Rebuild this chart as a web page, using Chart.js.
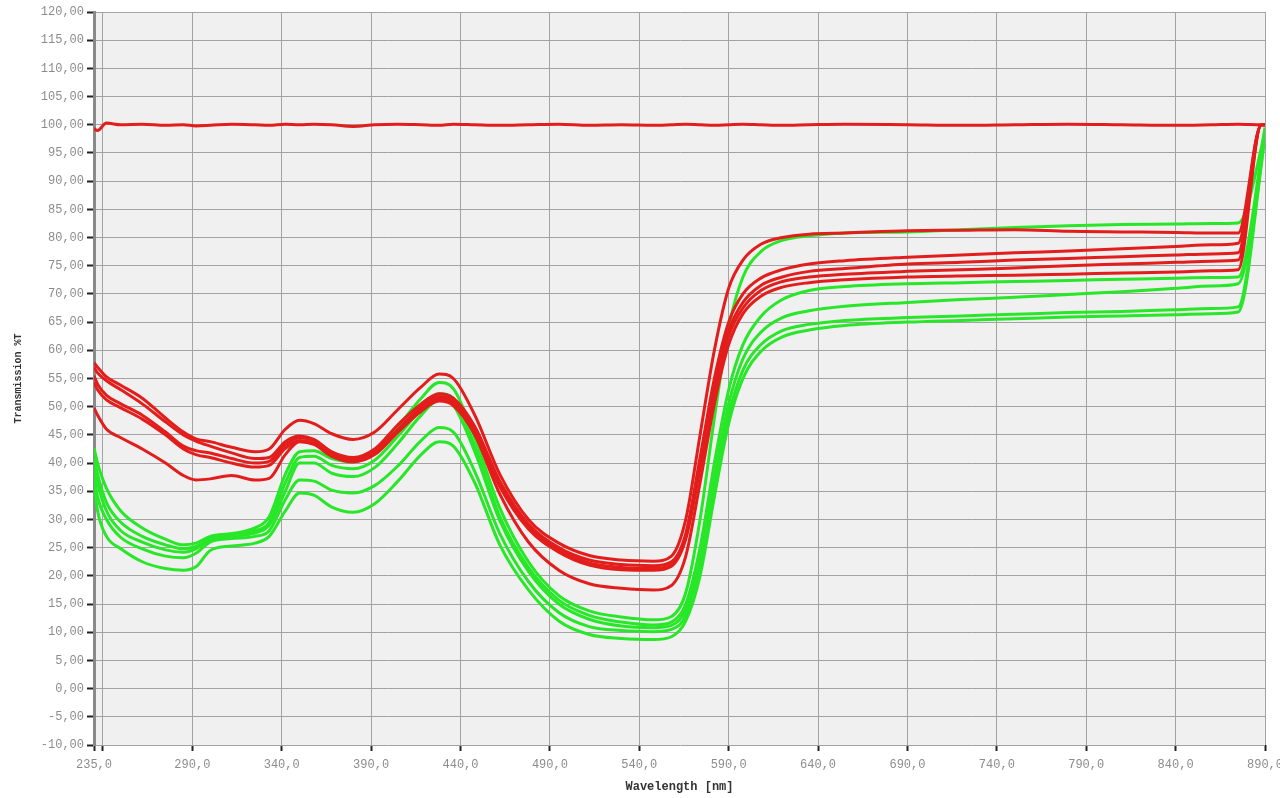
<!DOCTYPE html>
<html>
<head>
<meta charset="utf-8">
<title>Transmission %T</title>
<script src="https://cdn.jsdelivr.net/npm/chart.js@4.4.1/dist/chart.umd.min.js"></script>
<style>
  html, body { margin: 0; padding: 0; background: #fff; }
  #wrap { width: 1280px; height: 798px; }
</style>
</head>
<body>
<div id="wrap"><canvas id="chart" width="1280" height="798"></canvas></div>
<script>
// wavelengths in nm, shared by all curves
const wavelengths = [235, 237, 242, 250, 262, 275, 285, 292, 300, 312,
  325, 333, 342, 350, 358, 368, 380, 392, 405, 418,
  428, 436, 448, 462, 478, 495, 512, 530, 548, 558,
  566, 574, 582, 590, 598, 608, 620, 635, 655, 690,
  720, 750, 780, 810, 840, 860, 875, 888, 890];

// reference (100 %) line
const red0 = [99.3, 99.0, 100.3, 100.0, 100.1, 99.9, 100.0, 99.8, 99.9, 100.1,
  100.0, 99.9, 100.1, 100.0, 100.1, 100.0, 99.7, 100.0, 100.1, 100.0,
  99.9, 100.1, 100.0, 99.9, 100.0, 100.1, 99.9, 100.0, 99.9, 100.0,
  100.1, 100.0, 99.9, 100.0, 100.1, 100.0, 99.9, 100.0, 100.1, 100.0,
  99.9, 100.0, 100.1, 100.0, 99.9, 100.0, 100.1, 100.0, 100.0];

// red samples
const red1 = [57.8, 57.0, 55.3, 53.8, 51.5, 48.0, 45.5, 44.3, 43.8, 42.8,
  42.0, 42.5, 46.0, 47.6, 47.0, 45.2, 44.2, 45.5, 49.5, 53.5,
  55.8, 55.0, 48.5, 38.0, 30.0, 25.8, 23.6, 22.8, 22.6, 23.5,
  30.0, 45.0, 60.0, 71.0, 76.0, 78.8, 80.0, 80.6, 80.8, 81.2,
  81.3, 81.4, 81.1, 81.0, 80.9, 80.8, 80.8, 100, 100];
const red2 = [57.0, 56.0, 54.6, 53.0, 50.5, 47.3, 45.0, 43.9, 43.0, 41.8,
  40.8, 41.0, 43.8, 44.8, 44.2, 42.0, 41.0, 42.5, 46.8, 50.5,
  52.3, 51.5, 46.5, 36.8, 29.2, 25.0, 22.8, 22.0, 21.8, 22.5,
  27.5, 41.0, 55.0, 65.0, 70.0, 72.8, 74.3, 75.3, 75.9, 76.5,
  76.9, 77.3, 77.6, 78.0, 78.4, 78.7, 79.0, 100, 100];
const red3 = [55.5, 54.0, 52.0, 50.5, 48.5, 45.5, 43.0, 42.2, 41.8, 40.8,
  40.0, 40.3, 43.2, 44.5, 44.0, 41.8, 40.6, 42.0, 46.0, 50.0,
  51.8, 51.0, 46.0, 36.2, 28.8, 24.6, 22.3, 21.5, 21.3, 22.0,
  27.0, 40.0, 53.5, 63.5, 68.5, 71.5, 73.0, 74.0, 74.5, 75.3,
  75.6, 76.0, 76.3, 76.6, 76.9, 77.1, 77.3, 100, 100];
const red4 = [54.3, 53.0, 51.2, 49.8, 47.8, 45.0, 42.5, 41.5, 41.0, 40.0,
  39.3, 39.6, 42.6, 44.0, 43.5, 41.5, 40.4, 41.8, 45.7, 49.6,
  51.4, 50.6, 45.5, 35.8, 28.3, 24.2, 21.9, 21.1, 21.0, 21.7,
  26.5, 39.0, 52.5, 62.5, 67.5, 70.6, 72.2, 73.0, 73.5, 74.0,
  74.3, 74.6, 75.0, 75.3, 75.6, 75.8, 76.0, 100, 100];
const red5 = [49.8, 48.5, 46.0, 44.5, 42.5, 40.0, 37.8, 37.0, 37.2, 37.8,
  37.0, 37.3, 41.5, 43.8, 43.3, 41.2, 40.2, 41.5, 45.5, 49.2,
  51.0, 50.2, 45.0, 34.5, 26.0, 21.0, 18.6, 17.8, 17.5, 18.3,
  23.5, 36.5, 50.5, 61.0, 66.5, 69.6, 71.2, 72.0, 72.5, 73.0,
  73.2, 73.3, 73.5, 73.7, 73.9, 74.1, 74.3, 100, 100];

// green samples
const green1 = [42.7, 40.0, 35.5, 31.5, 28.5, 26.5, 25.5, 25.8, 27.0, 27.5,
  28.5, 30.5, 38.0, 42.0, 42.2, 40.8, 40.2, 42.0, 46.5, 51.5,
  54.3, 53.2, 44.5, 32.0, 22.5, 16.5, 13.8, 12.7, 12.2, 12.8,
  17.0, 30.0, 48.0, 64.0, 73.0, 77.5, 79.5, 80.3, 80.8, 81.0,
  81.4, 81.8, 82.1, 82.3, 82.4, 82.5, 82.6, 96.0, 99.5];
const green2 = [41.0, 38.0, 33.0, 29.5, 27.0, 25.5, 24.8, 25.2, 26.6, 27.2,
  28.0, 29.5, 36.5, 41.0, 41.2, 39.6, 39.0, 40.5, 44.8, 49.5,
  52.3, 51.5, 43.0, 30.5, 21.5, 15.7, 13.0, 11.8, 11.3, 11.8,
  15.0, 25.0, 40.0, 53.0, 61.0, 66.0, 69.0, 70.6, 71.3, 71.8,
  72.0, 72.2, 72.4, 72.6, 72.8, 72.9, 73.0, 94.5, 99.0];
const green3 = [40.0, 36.5, 31.5, 28.0, 26.0, 24.6, 24.2, 24.8, 26.4, 27.0,
  27.6, 29.0, 35.0, 40.0, 40.0, 38.2, 37.6, 39.2, 43.5, 48.5,
  51.2, 50.2, 42.0, 29.8, 20.8, 15.0, 12.3, 11.1, 10.8, 11.2,
  14.0, 23.0, 37.5, 50.5, 58.5, 63.2, 65.8, 67.0, 67.8, 68.5,
  69.0, 69.4, 69.9, 70.4, 71.0, 71.4, 71.8, 94.0, 99.0];
const green4 = [38.0, 34.0, 30.0, 26.8, 24.8, 23.5, 23.2, 24.0, 26.0, 26.6,
  27.0, 28.0, 33.5, 37.0, 36.8, 35.2, 34.7, 36.0, 39.5, 44.0,
  46.3, 45.5, 38.5, 27.5, 19.0, 13.5, 11.0, 10.3, 10.1, 10.5,
  13.0, 21.5, 35.5, 48.5, 56.5, 61.0, 63.5, 64.6, 65.3, 65.8,
  66.1, 66.4, 66.7, 66.9, 67.2, 67.4, 67.7, 93.5, 98.5];
const green5 = [36.5, 31.5, 27.0, 24.8, 22.5, 21.3, 21.0, 21.6, 24.5, 25.3,
  25.8, 27.0, 31.5, 34.7, 34.3, 32.2, 31.3, 32.8, 36.8, 41.5,
  43.8, 43.0, 36.5, 25.5, 17.5, 12.0, 9.6, 8.9, 8.7, 9.2,
  12.0, 20.0, 34.0, 47.0, 55.0, 59.8, 62.4, 63.6, 64.4, 65.0,
  65.3, 65.6, 65.9, 66.1, 66.3, 66.5, 66.8, 93.0, 98.5];

const xTicks = [235, 240, 290, 340, 390, 440, 490, 540, 590, 640, 690, 740, 790, 840, 890];

const RED = '#e21d1b';
const GREEN = '#28e628';

// reds first so they are painted over the greens
const series = [
  { values: red0, color: RED },
  { values: red1, color: RED },
  { values: red2, color: RED },
  { values: red3, color: RED },
  { values: red4, color: RED },
  { values: red5, color: RED },
  { values: green1, color: GREEN },
  { values: green2, color: GREEN },
  { values: green3, color: GREEN },
  { values: green4, color: GREEN },
  { values: green5, color: GREEN },
];

const plotBackground = {
  id: 'plotBackground',
  beforeDraw(chart) {
    const { ctx, chartArea: { left, top, right, bottom } } = chart;
    ctx.save();
    ctx.fillStyle = '#f0f0f0';
    ctx.fillRect(left, top, right - left, bottom - top);
    ctx.restore();
  }
};

const tickFont = { family: 'Liberation Mono', size: 12 };
const titleFont = { family: 'Liberation Mono', size: 12, weight: 'bold' };

new Chart(document.getElementById('chart'), {
  type: 'line',
  data: {
    datasets: series.map(s => ({
      data: wavelengths.map((w, i) => ({ x: w, y: s.values[i] })),
      borderColor: s.color,
      backgroundColor: s.color,
      fill: false
    }))
  },
  options: {
    responsive: false,
    animation: false,
    devicePixelRatio: 1,
    layout: { padding: { left: 0, right: 15, top: 12, bottom: 0 } },
    elements: {
      line: { borderWidth: 3, cubicInterpolationMode: 'monotone' },
      point: { radius: 0, hoverRadius: 0 }
    },
    plugins: {
      legend: { display: false },
      tooltip: { enabled: false }
    },
    scales: {
      x: {
        type: 'linear',
        min: 235,
        max: 890,
        afterBuildTicks: scale => { scale.ticks = xTicks.map(v => ({ value: v })); },
        afterFit: scale => { scale.height = 53; scale.paddingLeft = 0; scale.paddingRight = 0; },
        grid: { color: '#a3a3a3', lineWidth: 1, tickColor: '#222', tickLength: 6, tickWidth: 2 },
        border: { display: false },
        ticks: {
          autoSkip: false,
          maxRotation: 0,
          padding: 7,
          color: '#8c8c8c',
          font: tickFont,
          callback: v => v === 240 ? '' : v.toFixed(1).replace('.', ',')
        },
        title: {
          display: true,
          text: 'Wavelength [nm]',
          color: '#333',
          font: titleFont,
          padding: { top: 0, bottom: 4 }
        }
      },
      y: {
        min: -10,
        max: 120,
        afterFit: scale => { scale.width = 94; scale.paddingTop = 0; scale.paddingBottom = 0; },
        grid: { color: '#a3a3a3', lineWidth: 1, tickColor: '#222', tickLength: 7, tickWidth: 2 },
        border: { display: true, color: '#8a8a8a', width: 3 },
        ticks: {
          stepSize: 5,
          autoSkip: false,
          padding: 3,
          color: '#8c8c8c',
          font: tickFont,
          callback: v => v.toFixed(2).replace('.', ',')
        },
        title: {
          display: true,
          text: 'Transmission %T',
          color: '#333',
          font: { family: 'Liberation Mono', size: 10, weight: 'bold' },
          padding: { top: 12, bottom: 0 }
        }
      }
    }
  },
  plugins: [plotBackground]
});
</script>
</body>
</html>
